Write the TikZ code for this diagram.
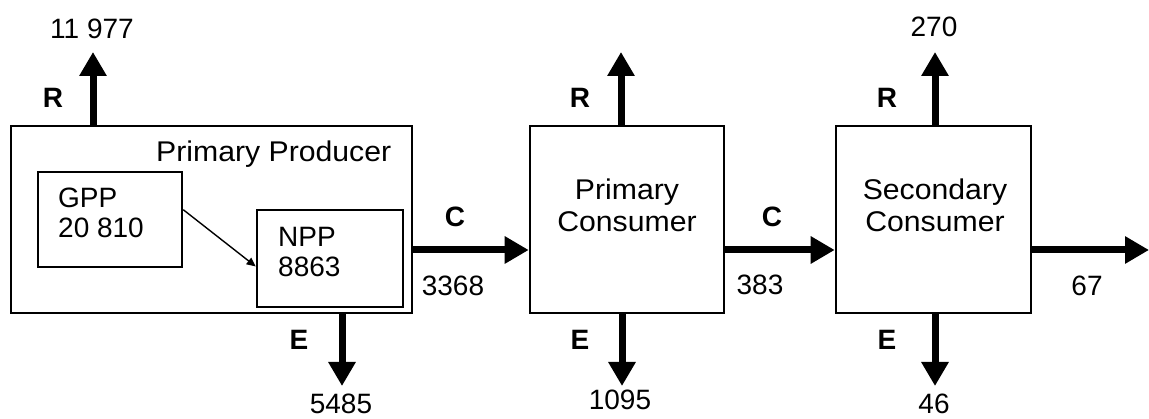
\documentclass[tikz,border=0pt]{standalone}
\usepackage{fontspec}
\setmainfont{Liberation Sans}
\newfontfamily\widefont{Liberation Sans}[FakeStretch=1.06]
\usetikzlibrary{arrows.meta,calc}
\tikzset{
  box/.style={draw, line width=2.6pt, inner sep=0pt, minimum height=187pt},
  inbox/.style={draw, line width=2.6pt, inner sep=0pt},
  flow/.style={line width=7pt, -{Triangle[length=24pt,width=26pt]}},
  thin/.style={line width=1.4pt, -{Triangle[length=9pt,width=8pt]}},
  lbl/.style={font=\fontsize{28}{30}\selectfont\bfseries, anchor=base, inner sep=0pt},
  num/.style={font=\fontsize{28}{30}\selectfont, anchor=base, inner sep=0pt},
  txt/.style={font=\widefont\fontsize{28.5}{30}\selectfont, anchor=base, inner sep=0pt},
}
\begin{document}
\begin{tikzpicture}[x=1pt,y=-1pt]
\useasboundingbox (0,0) rectangle (1149,419);
% boxes
\node[box, minimum width=401pt] (prod) at (211.5,219.5) {};
\node[inbox, minimum width=144pt, minimum height=95pt] (gpp) at (110,219.5) {};
\node[inbox, minimum width=146pt, minimum height=97pt] (npp) at (330,258.5) {};
\node[box, minimum width=194pt] (pc) at (627,219.5) {};
\node[box, minimum width=195pt] (sc) at (933.5,219.5) {};
% box texts
\node[txt, anchor=base west] (ptitle) at (156,162) {Primary Producer};
\node[num, anchor=base west] (gppt) at (58,208) {GPP};
\node[num, anchor=base west] (gppv) at (58,238) {20 810};
\node[num, anchor=base west] (nppt) at (278,247) {NPP};
\node[num, anchor=base west] (nppv) at (278,277) {8863};
\node[txt] (pct1) at (627,200) {Primary};
\node[txt] (pct2) at (627,232) {Consumer};
\node[txt] (sct1) at (935,200) {Secondary};
\node[txt] (sct2) at (935,232) {Consumer};
% tips
\coordinate (r1) at (93,52);
\coordinate (r2) at (621,52);
\coordinate (r3) at (935,52);
\coordinate (e1) at (342,386);
\coordinate (e2) at (622,386);
\coordinate (e3) at (935,386);
\coordinate (out) at (1149,250);
% flows
\draw[flow] (r1 |- prod.north) -- (r1);
\draw[flow] (r2 |- pc.north) -- (r2);
\draw[flow] (r3 |- sc.north) -- (r3);
\draw[flow] (e1 |- prod.south) -- (e1);
\draw[flow] (e2 |- pc.south) -- (e2);
\draw[flow] (e3 |- sc.south) -- (e3);
\draw[flow] (prod.east |- out) -- (pc.west |- out);
\draw[flow] (pc.east |- out) -- (sc.west |- out);
\draw[flow] (sc.east |- out) -- (out);
\draw[thin] ($(gpp.north east)!0.4!(gpp.south east)$) -- ($(npp.north west)!0.58!(npp.south west)$);
% labels
\node[lbl] (lr1) at (53,108) {R};
\node[lbl] (lr2) at (580,108) {R};
\node[lbl] (lr3) at (887,108) {R};
\node[lbl] (le1) at (299,350) {E};
\node[lbl] (le2) at (580,350) {E};
\node[lbl] (le3) at (887,350) {E};
\node[lbl] (lc1) at (455,227) {C};
\node[lbl] (lc2) at (772,227) {C};
% numbers
\node[num] (n1) at (92,39) {11 977};
\node[num] (n2) at (934,37) {270};
\node[num] (n3) at (341,414) {5485};
\node[num] (n4) at (620,410) {1095};
\node[num] (n5) at (934,414) {46};
\node[num] (n6) at (453,296) {3368};
\node[num] (n7) at (760,295) {383};
\node[num] (n8) at (1087,296) {67};
\end{tikzpicture}
\end{document}
